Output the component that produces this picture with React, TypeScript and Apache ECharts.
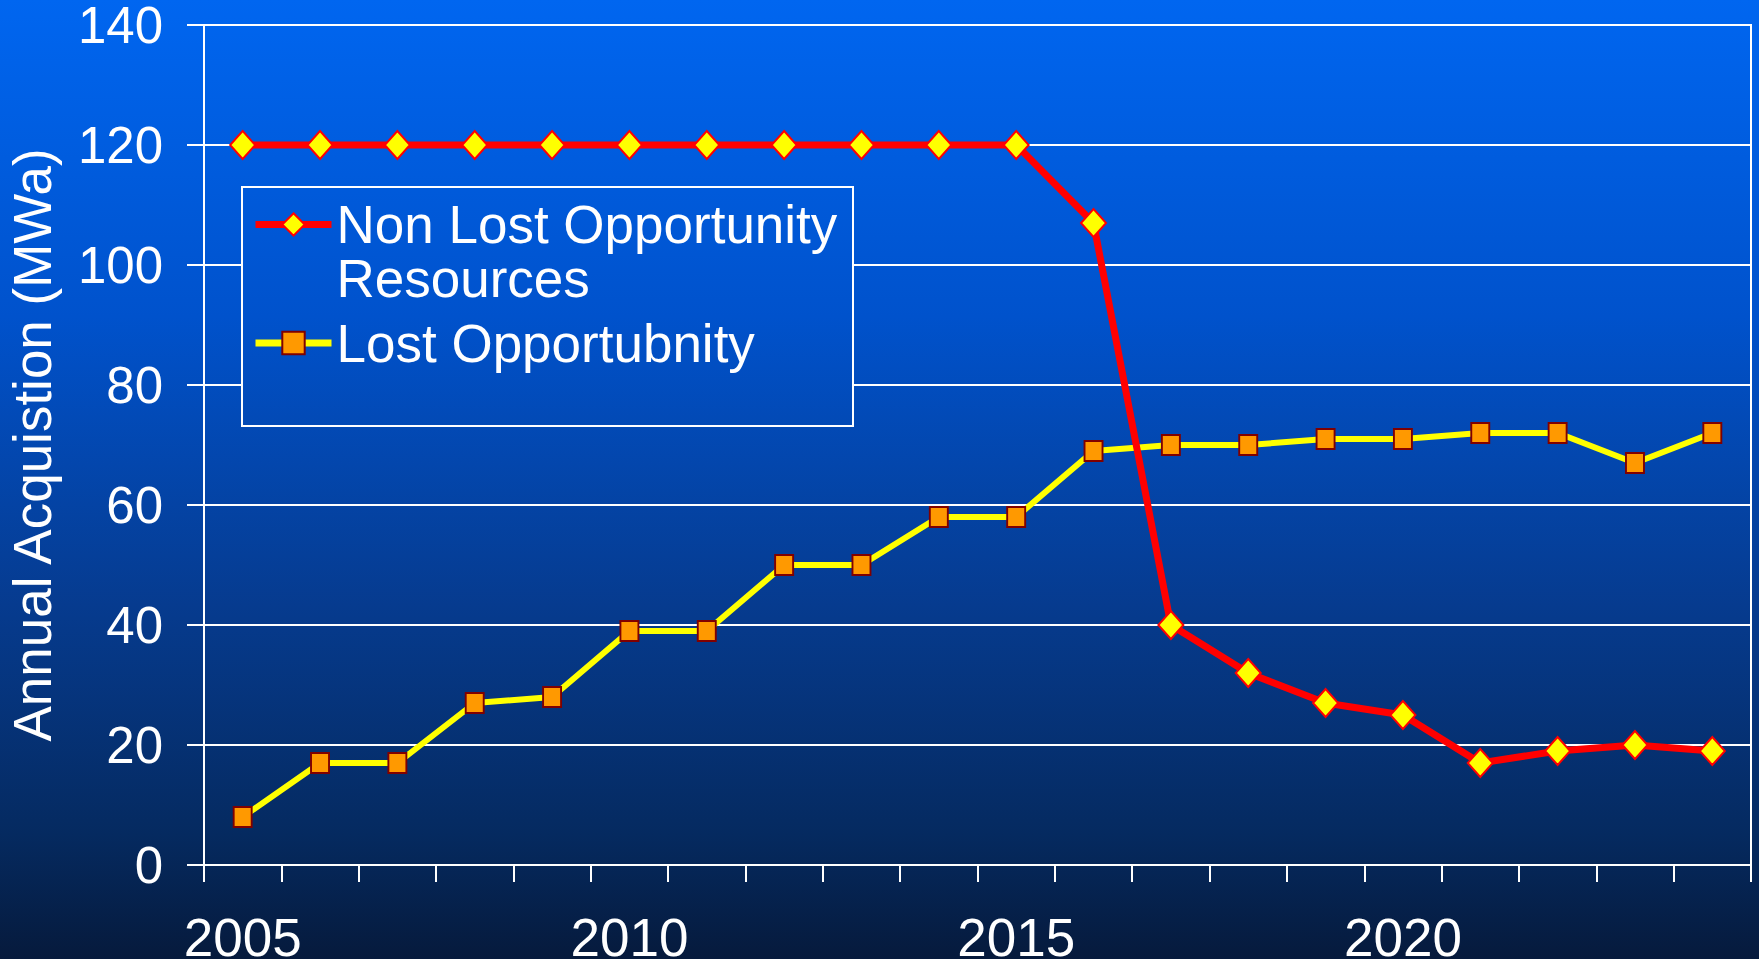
import React, { useEffect, useRef } from "react";
import * as echarts from "echarts";

const years = ["2005","2006","2007","2008","2009","2010","2011","2012","2013","2014","2015","2016","2017","2018","2019","2020","2021","2022","2023","2024"];
const nonLostValues = [120,120,120,120,120,120,120,120,120,120,120,107,40,32,27,25,17,19,20,19];
const lostValues = [8,17,17,27,28,39,39,50,50,58,58,69,70,70,71,71,72,72,67,72];
const yTicks = { min: 0, max: 140, interval: 20 };
const NAME_NON = "Non Lost Opportunity Resources";
const NAME_LOST = "Lost Opportubnity";
const Y_NAME = "Annual Acquistion (MWa)";

const FONT = "'Liberation Sans', Arial, sans-serif";

const bgStops = [
  { offset: 0, color: "#0066F0" },
  { offset: 0.33, color: "#0052CC" },
  { offset: 0.63, color: "#063B8F" },
  { offset: 0.87, color: "#052A60" },
  { offset: 1, color: "#061A3C" },
];

export default function App() {
  const ref = useRef<HTMLDivElement>(null);
  useEffect(() => {
    if (!ref.current) return;
    const chart = echarts.init(ref.current, undefined, { renderer: "svg" });
    const legendText = { color: "#FFFFFF", fontSize: 53, fontFamily: FONT };
    const option: any = {
      animation: false,
      graphic: [
        {
          type: "rect",
          z: -10,
          shape: { x: 0, y: 0, width: 1759, height: 959 },
          style: { fill: new echarts.graphic.LinearGradient(0, 0, 0, 1, bgStops) },
          silent: true,
        },
        {
          type: "rect",
          z: 1,
          shape: { x: 242, y: 187, width: 611, height: 239 },
          style: {
            fill: new echarts.graphic.LinearGradient(0, 0, 0, 959, bgStops, true),
            stroke: "#FFFFFF",
            lineWidth: 2,
          },
          silent: true,
        },
      ],
      grid: {
        left: 204,
        right: 8,
        top: 25,
        bottom: 94,
        show: true,
        borderColor: "#FFFFFF",
        borderWidth: 2,
        backgroundColor: "transparent",
        containLabel: false,
        outerBoundsMode: "none",
      },
      legend: [
        {
          data: [NAME_NON],
          orient: "vertical",
          left: 252,
          top: 144,
          padding: 0,
          itemWidth: 76,
          itemHeight: 28,
          lineStyle: { width: 7 },
          formatter: () => "{s| }\n{a|Non Lost Opportunity}\n{a|Resources}",
          textStyle: {
            ...legendText,
            rich: {
              s: { ...legendText, lineHeight: 54 },
              a: { ...legendText, lineHeight: 54 },
            },
          },
        },
        {
          data: [NAME_LOST],
          orient: "vertical",
          left: 252,
          top: 316,
          padding: 0,
          itemWidth: 76,
          itemHeight: 28,
          lineStyle: { width: 7 },
          textStyle: { ...legendText, lineHeight: 54 },
        },
      ],
      xAxis: {
        type: "category",
        data: years,
        boundaryGap: true,
        axisLine: { show: true, lineStyle: { color: "#FFFFFF", width: 2 } },
        axisTick: { show: true, interval: 0, length: 17, lineStyle: { color: "#FFFFFF", width: 2 } },
        axisLabel: { interval: 4, color: "#FFFFFF", fontSize: 53, lineHeight: 40, fontFamily: FONT, margin: 52 },
        splitLine: { show: false },
      },
      yAxis: {
        type: "value",
        min: yTicks.min,
        max: yTicks.max,
        interval: yTicks.interval,
        name: Y_NAME,
        nameLocation: "middle",
        nameGap: 145,
        nameTextStyle: { color: "#FFFFFF", fontSize: 53, fontFamily: FONT },
        axisLine: { show: true, lineStyle: { color: "#FFFFFF", width: 2 } },
        axisTick: { show: true, length: 17, lineStyle: { color: "#FFFFFF", width: 2 } },
        axisLabel: { color: "#FFFFFF", fontSize: 51, lineHeight: 44, fontFamily: FONT, margin: 41 },
        splitLine: { show: true, lineStyle: { color: "#FFFFFF", width: 2 } },
      },
      series: [
        {
          name: NAME_LOST,
          type: "line",
          data: lostValues,
          symbol: "rect",
          symbolSize: [18, 20],
          lineStyle: { color: "#FFFF00", width: 6 },
          itemStyle: { color: "#FF9900", borderColor: "#800000", borderWidth: 2 },
          z: 3,
        },
        {
          name: NAME_NON,
          type: "line",
          data: nonLostValues,
          symbol: "diamond",
          symbolSize: [25, 28],
          lineStyle: { color: "#FF0000", width: 7 },
          itemStyle: { color: "#FFFF00", borderColor: "#FF0000", borderWidth: 2 },
          z: 4,
        },
      ],
    };
    chart.setOption(option);
    return () => chart.dispose();
  }, []);
  return (
    <div
      ref={ref}
      style={{ position: "fixed", left: 0, top: 0, width: 1759, height: 959 }}
    />
  );
}
